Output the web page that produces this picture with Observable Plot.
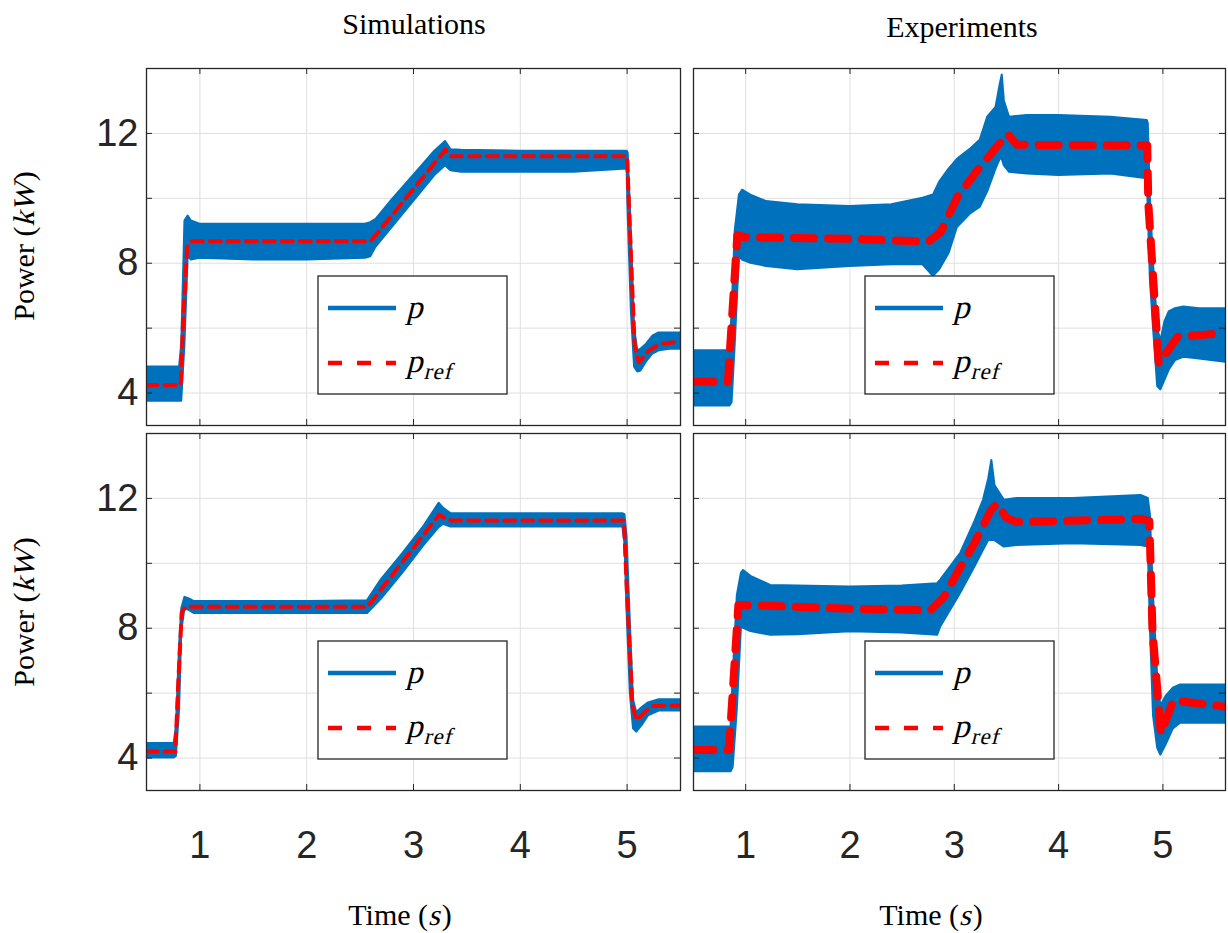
<!DOCTYPE html>
<html>
<head>
<meta charset="utf-8">
<script src="https://cdn.jsdelivr.net/npm/d3@7"></script>
<script src="https://cdn.jsdelivr.net/npm/@observablehq/plot@0.6"></script>
<style>
  html, body { margin: 0; padding: 0; background: #fff; }
  #root { position: relative; width: 1228px; height: 933px; overflow: hidden; }
  #root > * { position: absolute; }
</style>
</head>
<body>
<div id="root"></div>
<script>
// ---------- Tick labels ----------
const xTickLabels = [1, 2, 3, 4, 5];
const yTickLabels = [4, 8, 12];
const yGrid = [4, 6, 8, 10, 12];
const columnTitles = ["Simulations", "Experiments"];

// ---------- Simulations, top: p envelope (lo/hi) and p_ref ----------
const simTopT  = [0.5, 0.81, 0.83, 0.86, 0.89, 0.92, 1.0, 1.5, 2.0, 2.55, 2.6, 2.65, 2.8, 3.0, 3.2, 3.3, 3.35, 3.45, 4.0, 4.5, 5.0, 5.01, 5.04, 5.07, 5.1, 5.13, 5.18, 5.24, 5.3, 5.4, 5.5];
const simTopLo = [3.75, 3.75, 3.75, 5.5, 8.2, 8.1, 8.15, 8.1, 8.1, 8.15, 8.2, 8.5, 9.1, 9.9, 10.7, 11.0, 10.85, 10.8, 10.8, 10.8, 10.9, 9.5, 6.5, 4.8, 4.65, 4.68, 4.95, 5.2, 5.3, 5.35, 5.35];
const simTopHi = [4.8, 4.8, 5.5, 9.3, 9.45, 9.3, 9.2, 9.2, 9.2, 9.2, 9.25, 9.35, 9.95, 10.7, 11.45, 11.75, 11.5, 11.48, 11.45, 11.45, 11.45, 11.4, 9.0, 6.0, 5.3, 5.35, 5.5, 5.75, 5.85, 5.85, 5.85];
const simTopRefT = [0.5, 0.82, 0.84, 0.88, 0.92, 2.6, 3.3, 3.34, 4.0, 5.0, 5.02, 5.07, 5.11, 5.2, 5.3, 5.5];
const simTopRef  = [4.25, 4.25, 6.0, 8.5, 8.68, 8.68, 11.5, 11.3, 11.3, 11.3, 9.5, 5.5, 4.95, 5.3, 5.5, 5.6];

// ---------- Experiments, top ----------
const expTopT  = [0.5, 0.85, 0.87, 0.9, 0.94, 0.97, 1.05, 1.2, 1.5, 2.0, 2.4, 2.7, 2.8, 2.86, 2.95, 3.03, 3.15, 3.25, 3.32, 3.4, 3.44, 3.46, 3.48, 3.53, 3.7, 4.0, 4.5, 4.85, 4.86, 4.88, 4.91, 4.95, 4.98, 5.02, 5.06, 5.12, 5.2, 5.35, 5.6];
const expTopLo = [3.6, 3.6, 3.7, 5.5, 8.2, 8.1, 8.0, 7.9, 7.8, 7.9, 7.95, 7.95, 7.6, 7.8, 8.3, 9.1, 9.5, 9.73, 10.2, 10.9, 11.2, 11.2, 11.0, 10.8, 10.75, 10.7, 10.75, 10.6, 9.6, 7.5, 6.0, 4.2, 4.1, 4.4, 4.7, 5.0, 5.1, 5.05, 4.95];
const expTopHi = [5.3, 5.3, 6.5, 9.0, 10.1, 10.25, 10.1, 9.9, 9.8, 9.75, 9.8, 10.0, 10.1, 10.5, 10.9, 11.2, 11.5, 11.8, 12.5, 12.8, 13.5, 13.8, 13.0, 12.5, 12.55, 12.55, 12.5, 12.4, 12.3, 10.0, 8.0, 6.0, 5.6, 6.2, 6.5, 6.6, 6.65, 6.6, 6.6];
const expTopRefT = [0.5, 0.83, 0.92, 1.0, 2.0, 2.75, 2.87, 3.03, 3.22, 3.38, 3.51, 3.6, 4.85, 4.86, 4.96, 5.14, 5.6];
const expTopRef  = [4.35, 4.35, 8.86, 8.8, 8.75, 8.66, 8.96, 10.04, 10.86, 11.48, 11.99, 11.65, 11.63, 9.84, 4.91, 5.73, 5.85];

// ---------- Simulations, bottom ----------
const simBotT  = [0.5, 0.76, 0.78, 0.81, 0.83, 0.86, 0.9, 0.95, 1.5, 2.0, 2.57, 2.7, 2.9, 3.1, 3.24, 3.28, 3.35, 4.0, 4.96, 4.98, 5.0, 5.03, 5.06, 5.09, 5.14, 5.2, 5.3, 5.5];
const simBotLo = [4.0, 4.0, 4.05, 5.5, 7.9, 8.6, 8.55, 8.45, 8.45, 8.45, 8.45, 8.9, 9.7, 10.55, 11.1, 11.2, 11.12, 11.12, 11.12, 10.6, 8.5, 6.0, 4.9, 4.8, 5.0, 5.3, 5.45, 5.45];
const simBotHi = [4.45, 4.45, 5.0, 7.5, 8.6, 8.95, 8.9, 8.82, 8.82, 8.82, 8.85, 9.5, 10.3, 11.15, 11.85, 11.7, 11.53, 11.53, 11.53, 11.5, 10.8, 8.2, 5.8, 5.4, 5.55, 5.7, 5.8, 5.8];
const simBotRefT = [0.5, 0.77, 0.8, 0.83, 0.87, 2.57, 3.24, 3.3, 3.35, 4.97, 5.0, 5.05, 5.09, 5.16, 5.24, 5.5];
const simBotRef  = [4.2, 4.2, 6.5, 8.5, 8.66, 8.66, 11.5, 11.38, 11.32, 11.32, 9.0, 5.6, 5.17, 5.4, 5.6, 5.62];

// ---------- Experiments, bottom ----------
const expBotT  = [0.5, 0.86, 0.88, 0.92, 0.96, 0.98, 1.05, 1.24, 1.5, 2.0, 2.5, 2.84, 2.87, 3.06, 3.2, 3.28, 3.33, 3.36, 3.39, 3.48, 3.6, 4.14, 4.79, 4.86, 4.88, 4.91, 4.95, 4.98, 5.03, 5.1, 5.17, 5.6];
const expBotLo = [3.58, 3.58, 3.7, 5.5, 8.05, 8.0, 7.9, 7.78, 7.8, 7.89, 7.85, 7.78, 8.04, 9.07, 9.9, 10.4, 10.7, 10.71, 10.7, 10.5, 10.55, 10.6, 10.55, 10.5, 8.0, 5.3, 4.3, 4.09, 4.4, 4.9, 5.07, 5.07];
const expBotHi = [4.96, 4.96, 6.5, 9.0, 9.7, 9.78, 9.6, 9.32, 9.3, 9.27, 9.3, 9.37, 9.48, 10.3, 11.3, 11.94, 12.6, 13.17, 12.4, 11.94, 12.0, 12.0, 12.09, 12.0, 11.5, 9.0, 6.5, 5.6, 5.9, 6.15, 6.25, 6.25];
const expBotRefT = [0.5, 0.84, 0.93, 1.05, 2.0, 2.77, 2.9, 3.06, 3.19, 3.35, 3.41, 3.5, 3.6, 4.2, 4.79, 4.87, 4.9, 4.98, 5.1, 5.6];
const expBotRef  = [4.25, 4.25, 8.71, 8.71, 8.6, 8.55, 8.96, 9.89, 10.6, 11.63, 11.84, 11.4, 11.27, 11.32, 11.37, 11.3, 7.94, 4.76, 5.78, 5.58];

// ---------- build ----------
const BLUE = "#0072BD", RED = "#FF0000", INK = "#262626", GRID = "#dfdfdf";
const SERIF = "'Liberation Serif', 'Times New Roman', serif";
const SKEW = -14;
const root = document.getElementById("root");

function band(t, lo, hi) { return t.map((d, i) => ({t: d, lo: lo[i], hi: hi[i]})); }
function ref(t, p) { return t.map((d, i) => ({t: d, p: p[i]})); }

// Lays out a run of [text, italic, size, dy] pieces starting at x0 (baseline 0) in group g.
function runs(g, pieces, x0) {
  let x = x0;
  for (const [s, ital, size, dy, gap] of pieces) {
    const wrap = g.append("g").attr("transform", `translate(${x},${dy || 0})` + (ital ? ` skewX(${SKEW})` : ""));
    const t = wrap.append("text").attr("x", 0).attr("y", 0).attr("text-anchor", "start")
      .attr("font-family", SERIF).attr("font-size", size).attr("fill", "#000").text(s);
    x += t.node().getComputedTextLength() + (gap || 0);
  }
  return x - x0;
}
function measureRuns(g, pieces) {
  const tmp = g.append("g").attr("opacity", 0);
  const w = runs(tmp, pieces, 0);
  tmp.remove();
  return w;
}

const panels = [];
function panel(cfg) {
  const mL = cfg.labelsY ? 62 : 4, mR = 4, mT = 4, mB = cfg.labelsX ? 80 : 4;
  const innerW = cfg.frameRight - cfg.frameLeft, innerH = cfg.frameBottom - cfg.frameTop;
  const marks = [
    Plot.gridX(xTickLabels, {stroke: GRID, strokeOpacity: 1, strokeWidth: 1}),
    Plot.gridY(yGrid, {stroke: GRID, strokeOpacity: 1, strokeWidth: 1}),
    Plot.areaY(cfg.band, {x: "t", y1: "lo", y2: "hi", fill: BLUE, stroke: BLUE, strokeWidth: 2, strokeLinejoin: "round", clip: true}),
    Plot.line(cfg.ref, {x: "t", y: "p", stroke: RED, strokeWidth: cfg.refWidth, strokeDasharray: cfg.dash, strokeLinejoin: "round", clip: true}),
    Plot.tickY(yGrid, {stroke: INK, strokeWidth: 1, insetRight: innerW - 6}),
    Plot.tickY(yGrid, {stroke: INK, strokeWidth: 1, insetLeft: innerW - 6}),
    Plot.tickX(xTickLabels, {stroke: INK, strokeWidth: 1, insetTop: innerH - 6}),
    Plot.tickX(xTickLabels, {stroke: INK, strokeWidth: 1, insetBottom: innerH - 6}),
    Plot.frame({stroke: INK, strokeWidth: 1.3})
  ];
  if (cfg.labelsY) marks.push(Plot.axisY(yTickLabels, {tickSize: 0, tickPadding: 8, fontSize: 38, color: INK, label: null}));
  if (cfg.labelsX) marks.push(Plot.axisX(xTickLabels, {tickSize: 0, tickPadding: 41, fontSize: 38, color: INK, label: null}));
  const svg = Plot.plot({
    width: mL + innerW + mR,
    height: mT + innerH + mB,
    marginLeft: mL, marginRight: mR, marginTop: mT, marginBottom: mB,
    style: {background: "transparent", fontFamily: "'Liberation Sans', Arial, sans-serif", overflow: "visible"},
    x: {domain: cfg.xDomain, axis: null},
    y: {domain: [3, 14], axis: null},
    marks
  });
  svg.style.left = (cfg.frameLeft - mL) + "px";
  svg.style.top = (cfg.frameTop - mT) + "px";
  root.appendChild(svg);
  // legend box (decoration)
  const g = d3.select(svg).append("g").attr("transform", `translate(${mL + 172},${mT + 208})`);
  g.append("rect").attr("width", 189).attr("height", 118).attr("fill", "#fff").attr("stroke", INK).attr("stroke-width", 1.3);
  g.append("line").attr("x1", 10).attr("x2", 78).attr("y1", 32).attr("y2", 32).attr("stroke", BLUE).attr("stroke-width", 4.5);
  g.append("line").attr("x1", 10).attr("x2", 78).attr("y1", 87).attr("y2", 87).attr("stroke", RED).attr("stroke-width", 4.5).attr("stroke-dasharray", "14,15");
  runs(g.append("g").attr("transform", "translate(0,42)"), [["p", true, 33]], 88);
  runs(g.append("g").attr("transform", "translate(0,96)"), [["p", true, 33, 0, 1], ["r", true, 23, 7, 1], ["e", true, 23, 7, 1], ["f", true, 23, 7]], 88);
}

const LEFT = {frameLeft: 146, frameRight: 680, xDomain: [0.5, 5.5]};
const RIGHT = {frameLeft: 693, frameRight: 1225, xDomain: [0.5, 5.6]};
const TOP = {frameTop: 68, frameBottom: 425};
const BOT = {frameTop: 433, frameBottom: 790};

panel({...LEFT, ...TOP, labelsY: true, labelsX: false, band: band(simTopT, simTopLo, simTopHi), ref: ref(simTopRefT, simTopRef), refWidth: 4, dash: "11,7"});
panel({...RIGHT, ...TOP, labelsY: false, labelsX: false, band: band(expTopT, expTopLo, expTopHi), ref: ref(expTopRefT, expTopRef), refWidth: 8, dash: "20,14"});
panel({...LEFT, ...BOT, labelsY: true, labelsX: true, band: band(simBotT, simBotLo, simBotHi), ref: ref(simBotRefT, simBotRef), refWidth: 4, dash: "11,7"});
panel({...RIGHT, ...BOT, labelsY: false, labelsX: true, band: band(expBotT, expBotLo, expBotHi), ref: ref(expBotRefT, expBotRef), refWidth: 8, dash: "20,14"});

// ---------- text overlay: titles and axis labels ----------
const ov = d3.select(root).append("svg").attr("width", 1228).attr("height", 933)
  .style("left", "0px").style("top", "0px").style("pointer-events", "none")
  .attr("font-family", SERIF).attr("fill", "#000");
ov.append("text").attr("x", 414).attr("y", 34).attr("text-anchor", "middle").attr("font-size", 30).text(columnTitles[0]);
ov.append("text").attr("x", 962).attr("y", 37).attr("text-anchor", "middle").attr("font-size", 30).text(columnTitles[1]);

const powerLabel = [["Power (", false, 30], ["kW", true, 30, 0, 2], [")", false, 30]];
const timeLabel = [["Time (", false, 30], ["s", true, 30, 0, 2], [")", false, 30]];
function centered(transform, pieces) {
  const g = ov.append("g").attr("transform", transform);
  const w = measureRuns(g, pieces);
  runs(g, pieces, -w / 2);
}
centered("translate(34,246) rotate(-90)", powerLabel);
centered("translate(34,612) rotate(-90)", powerLabel);
centered("translate(400,925)", timeLabel);
centered("translate(931,925)", timeLabel);
</script>
</body>
</html>
